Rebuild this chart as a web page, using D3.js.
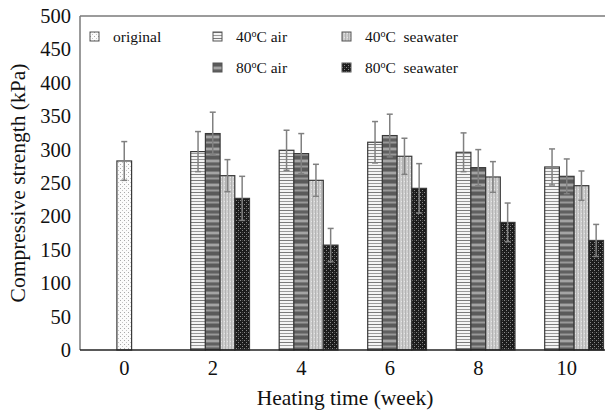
<!DOCTYPE html>
<html>
<head>
<meta charset="utf-8">
<script src="https://cdn.jsdelivr.net/npm/d3@7"></script>
<style>
  html, body { margin: 0; padding: 0; background: #fff; }
  svg, svg text { font-family: "Liberation Serif", "Times New Roman", serif !important; }
  svg { display: block; }
</style>
</head>
<body>
<svg id="chart" width="605" height="412"></svg>
<script>
// Heating time categories (weeks)
const weeks = [0, 2, 4, 6, 8, 10];
const seriesKeys = ["original", "air40", "air80", "sea40", "sea80"];

// Mean compressive strength (kPa) per series; null where not measured
const original = [283, null, null, null, null, null];
const air40 =    [null, 297, 299, 311, 296, 274];
const air80 =    [null, 324, 294, 321, 273, 260];
const sea40 =    [null, 261, 254, 290, 259, 246];
const sea80 =    [null, 227, 157, 242, 191, 164];

// Standard deviations (kPa)
const originalErr = [29, null, null, null, null, null];
const air40Err =    [null, 30, 30, 31, 29, 27];
const air80Err =    [null, 32, 30, 32, 27, 26];
const sea40Err =    [null, 24, 24, 27, 23, 22];
const sea80Err =    [null, 33, 25, 37, 29, 24];

const yTicks = [0, 50, 100, 150, 200, 250, 300, 350, 400, 450, 500];

const values = { original, air40, air80, sea40, sea80 };
const errors = { original: originalErr, air40: air40Err, air80: air80Err, sea40: sea40Err, sea80: sea80Err };

const SERIF = '"Liberation Serif", "Times New Roman", serif';

const svg = d3.select("#chart");
const defs = svg.append("defs");

// Fill patterns for each series
function pat(id, w, h) {
  return defs.append("pattern").attr("id", id).attr("patternUnits", "userSpaceOnUse")
    .attr("width", w).attr("height", h);
}
// original: sparse dots
let p = pat("p-original", 4, 4);
p.append("rect").attr("width", 4).attr("height", 4).attr("fill", "#fbfbfb");
p.append("rect").attr("x", 0).attr("y", 0).attr("width", 1).attr("height", 1).attr("fill", "#a8a8a8");
p.append("rect").attr("x", 2).attr("y", 2).attr("width", 1).attr("height", 1).attr("fill", "#c4c4c4");
// 40°C air: narrow horizontal lines
p = pat("p-air40", 6, 6);
p.append("rect").attr("width", 6).attr("height", 6).attr("fill", "#f4f4f4");
p.append("rect").attr("y", 0).attr("width", 6).attr("height", 1).attr("fill", "#7a7a7a");
p.append("rect").attr("y", 3).attr("width", 6).attr("height", 1).attr("fill", "#9a9a9a");
// 80°C air: dark horizontal bands
p = pat("p-air80", 6, 12);
p.append("rect").attr("width", 6).attr("height", 12).attr("fill", "#7a7a7a");
p.append("rect").attr("y", 0).attr("width", 6).attr("height", 3).attr("fill", "#5a5a5a");
p.append("rect").attr("y", 4).attr("width", 6).attr("height", 2).attr("fill", "#a4a4a4");
p.append("rect").attr("y", 7).attr("width", 6).attr("height", 2).attr("fill", "#606060");
p.append("rect").attr("y", 10).attr("width", 6).attr("height", 1).attr("fill", "#999");
// 40°C seawater: light grey with fine vertical texture
p = pat("p-sea40", 3, 4);
p.append("rect").attr("width", 3).attr("height", 4).attr("fill", "#cdcdcd");
p.append("rect").attr("x", 0).attr("width", 1).attr("height", 4).attr("fill", "#b3b3b3");
p.append("rect").attr("x", 2).attr("y", 1).attr("width", 1).attr("height", 1).attr("fill", "#e6e6e6");
// 80°C seawater: dark checker
p = pat("p-sea80", 4, 4);
p.append("rect").attr("width", 4).attr("height", 4).attr("fill", "#1c1c1c");
p.append("rect").attr("x", 0).attr("y", 0).attr("width", 1).attr("height", 1).attr("fill", "#8a8a8a");
p.append("rect").attr("x", 2).attr("y", 2).attr("width", 1).attr("height", 1).attr("fill", "#8a8a8a");
p.append("rect").attr("x", 2).attr("y", 0).attr("width", 1).attr("height", 1).attr("fill", "#444");

const plot = { left: 80, right: 611, top: 16, bottom: 350 };

const x = d3.scaleBand().domain(weeks).range([plot.left, plot.right]).padding(0);
const y = d3.scaleLinear().domain([0, 500]).range([plot.bottom, plot.top]);

// Inner cluster: five slots, each bar ~14.7 px wide
const clusterW = 73.5;
const inner = d3.scaleBand().domain(seriesKeys).range([-clusterW / 2, clusterW / 2]);
const bw = inner.bandwidth();

// Frame (top and left edges)
svg.append("line").attr("x1", plot.left).attr("x2", 605).attr("y1", plot.top).attr("y2", plot.top)
  .attr("stroke", "#7a7a7a").attr("stroke-width", 1.5);
svg.append("line").attr("x1", plot.left).attr("x2", plot.left).attr("y1", plot.top).attr("y2", plot.bottom)
  .attr("stroke", "#7a7a7a").attr("stroke-width", 1.5);

// Y axis labels
const yAxis = d3.axisLeft(y).tickValues(yTicks).tickSize(0).tickPadding(9);
const gy = svg.append("g").attr("transform", `translate(${plot.left},0)`).call(yAxis)
  .attr("font-family", null).attr("font-size", null);
gy.select(".domain").remove();
gy.selectAll("text").style("font-size", "20.5px").style("font-family", SERIF).attr("fill", "#111");

// X axis labels
const xAxis = d3.axisBottom(x).tickSize(0).tickPadding(10);
const gx = svg.append("g").attr("transform", `translate(0,${plot.bottom})`).call(xAxis)
  .attr("font-family", null).attr("font-size", null);
gx.select(".domain").remove();
gx.selectAll("text").style("font-size", "20.5px").style("font-family", SERIF).attr("fill", "#111");

// Bar records
const bars = [];
weeks.forEach((w, i) => {
  seriesKeys.forEach(k => {
    const v = values[k][i];
    if (v == null) return;
    // the lone original bar sits centred over its week
    const cx = x(w) + x.bandwidth() / 2;
    const x0 = k === "original" ? cx - bw / 2 : cx + inner(k);
    bars.push({ key: k, week: w, value: v, err: errors[k][i], x0 });
  });
});

const gBars = svg.append("g");
gBars.selectAll("rect").data(bars).join("rect")
  .attr("x", d => d.x0)
  .attr("y", d => y(d.value))
  .attr("width", bw)
  .attr("height", d => y(0) - y(d.value))
  .attr("fill", d => `url(#p-${d.key})`)
  .attr("stroke", "#3a3a3a")
  .attr("stroke-width", 1.2);

// Error bars
const gErr = svg.append("g").attr("stroke", "#808080").attr("stroke-width", 1.5);
bars.forEach(d => {
  const cx = d.x0 + bw / 2;
  const top = y(d.value + d.err), bot = y(d.value - d.err);
  gErr.append("line").attr("x1", cx).attr("x2", cx).attr("y1", top).attr("y2", bot);
  gErr.append("line").attr("x1", cx - 3).attr("x2", cx + 3).attr("y1", top).attr("y2", top);
  gErr.append("line").attr("x1", cx - 3).attr("x2", cx + 3).attr("y1", bot).attr("y2", bot);
});

// Baseline
svg.append("line").attr("x1", plot.left).attr("x2", 605).attr("y1", plot.bottom).attr("y2", plot.bottom)
  .attr("stroke", "#222").attr("stroke-width", 1.5);

// Legend
const legendItems = [
  { key: "original", parts: ["original"], x: 90, y: 32 },
  { key: "air40", parts: ["40", "C air"], x: 213, y: 32 },
  { key: "air80", parts: ["80", "C air"], x: 213, y: 63 },
  { key: "sea40", parts: ["40", "C  seawater"], x: 342, y: 32 },
  { key: "sea80", parts: ["80", "C  seawater"], x: 342, y: 63 }
];
const gLeg = svg.append("g");
legendItems.forEach(it => {
  const g = gLeg.append("g").attr("transform", `translate(${it.x},${it.y})`);
  g.append("rect").attr("width", 9).attr("height", 9)
    .attr("fill", `url(#p-${it.key})`).attr("stroke", "#555").attr("stroke-width", 1);
  const t = g.append("text").attr("x", 23).attr("y", 9.5).style("font-size", "15.5px")
    .style("font-family", SERIF).attr("fill", "#111").attr("xml:space", "preserve");
  if (it.parts.length === 1) {
    t.text(it.parts[0]);
  } else {
    t.append("tspan").text(it.parts[0]);
    t.append("tspan").style("font-size", "10px").attr("dy", -5).text("o");
    t.append("tspan").attr("dy", 5).text(it.parts[1]);
  }
});

// Axis titles
svg.append("text").attr("x", 345).attr("y", 405).attr("text-anchor", "middle")
  .style("font-size", "21.5px").style("font-family", SERIF).attr("fill", "#111").text("Heating time (week)");
svg.append("text").attr("transform", "translate(25,183) rotate(-90)").attr("text-anchor", "middle")
  .style("font-size", "21.5px").style("font-family", SERIF).attr("fill", "#111").text("Compressive strength (kPa)");
</script>
</body>
</html>
